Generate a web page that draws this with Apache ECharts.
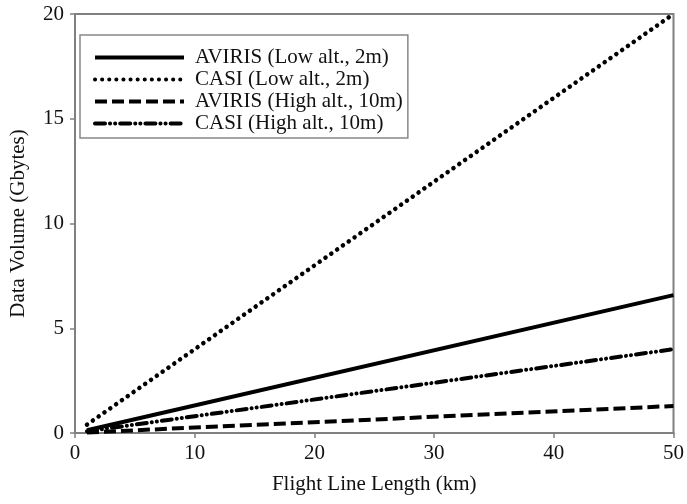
<!DOCTYPE html>
<html><head><meta charset="utf-8">
<script src="https://cdn.jsdelivr.net/npm/echarts@6/dist/echarts.min.js"></script>
<style>html,body{margin:0;padding:0;background:#fff}#c{width:687px;height:504px}</style>
</head><body><div id="c"></div>
<script>
const xValues = [1, 50];
const aviresLow = [0.13, 6.58];
const casiLow = [0.4, 20.0];
const avirisHigh = [0.026, 1.29];
const casiHigh = [0.08, 4.0];
const seriesNames = ['AVIRIS (Low alt., 2m)', 'CASI (Low alt., 2m)', 'AVIRIS (High alt., 10m)', 'CASI (High alt., 10m)'];
const xTicks = [0, 10, 20, 30, 40, 50];
const yTicks = [0, 5, 10, 15, 20];

const font = 'Liberation Serif';
const fs = 21;
function pts(v){ return xValues.map((x,i)=>[x, v[i]]); }
const styles = [
  {type:'solid', width:4, cap:'butt'},
  {type:[0.1,7], width:4.5, cap:'round'},
  {type:[12,5], width:4, cap:'butt'},
  {type:[10,5,0.1,5,0.1,5], width:4, cap:'round'}
];
const data = [aviresLow, casiLow, avirisHigh, casiHigh];
const chart = echarts.init(document.getElementById('c'));
chart.setOption({
  animation:false,
  backgroundColor:'#fff',
  grid:{left:75, right:9, top:14, bottom:71, show:true, borderColor:'#808080', borderWidth:2},
  legend:{
    show:true, left:80, top:35, orient:'vertical',
    itemWidth:89, itemHeight:14, itemGap:1,
    padding:[12,5,4,13],
    backgroundColor:'#fff', borderColor:'#888', borderWidth:1.5,
    itemStyle:{opacity:0},
    lineStyle:{width:4, type:'inherit'},
    textStyle:{fontFamily:font, fontSize:fs, lineHeight:21, color:'#111', padding:[0,0,0,6]},
    data: seriesNames.map(n=>({name:n}))
  },
  xAxis:{type:'value', min:0, max:50, interval:10,
    name:'Flight Line Length (km)', nameLocation:'middle', nameGap:41,
    nameTextStyle:{fontFamily:font, fontSize:fs, color:'#111'},
    axisLine:{lineStyle:{color:'#808080', width:2}},
    axisTick:{length:5, lineStyle:{color:'#808080', width:1.5}},
    axisLabel:{fontFamily:font, fontSize:fs, color:'#111', margin:10,
      formatter:v=>xTicks.includes(v)?String(v):''},
    splitLine:{show:false}},
  yAxis:{type:'value', min:0, max:20, interval:5,
    name:'Data Volume (Gbytes)', nameLocation:'middle', nameGap:46,
    nameTextStyle:{fontFamily:font, fontSize:fs, color:'#111'},
    axisLine:{show:true, lineStyle:{color:'#808080', width:2}},
    axisTick:{show:true, length:5, lineStyle:{color:'#808080', width:1.5}},
    axisLabel:{fontFamily:font, fontSize:fs, color:'#111', margin:11,
      formatter:v=>yTicks.includes(v)?String(v):''},
    splitLine:{show:false}},
  series: seriesNames.map((n,i)=>({
    name:n, type:'line', data:pts(data[i]), symbol:'none', showSymbol:false,
    lineStyle:Object.assign({color:'#000'}, styles[i]),
    itemStyle:{color:'#000'}
  }))
});
</script></body></html>
